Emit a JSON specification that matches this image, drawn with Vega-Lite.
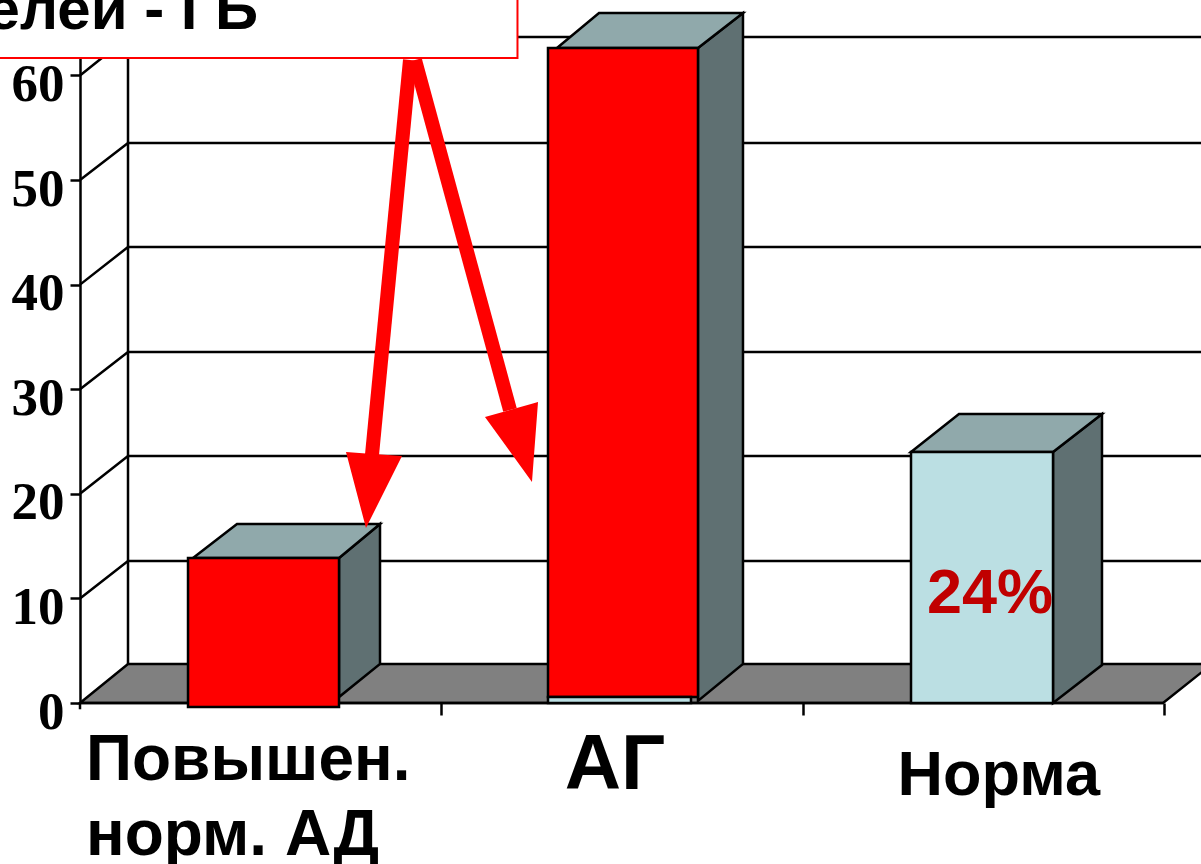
{
  "$schema": "https://vega.github.io/schema/vega-lite/v6.json",
  "width": 1121,
  "height": 703,
  "autosize": {"type": "none"},
  "padding": {"left": 80, "top": 0, "right": 0, "bottom": 161},
  "background": "white",
  "config": {"view": {"stroke": null}},
  "resolve": {"scale": {"fill": "independent"}},
  "datasets": {
    "floor": [
      {"x": 0, "y": 0, "y2": 0},
      {"x": 0.1328, "y": 3.73, "y2": 0},
      {"x": 2.9959, "y": 3.73, "y2": 0},
      {"x": 3.1314, "y": 3.73, "y2": 3.73}
    ],
    "wall": [
      {"g": "base", "x": 0, "y": 0},
      {"g": "base", "x": 2.9959, "y": 0},
      {"g": "stub", "x": 0, "y": 0},
      {"g": "stub", "x": 0, "y": -0.6},
      {"g": "back", "x": 0.1328, "y": 3.73},
      {"g": "back", "x": 0.1328, "y": 67.2},
      {"g": "10", "x": 0, "y": 10},
      {"g": "10", "x": 0.1328, "y": 13.58},
      {"g": "10", "x": 3.2, "y": 13.58},
      {"g": "20", "x": 0, "y": 20},
      {"g": "20", "x": 0.1328, "y": 23.61},
      {"g": "20", "x": 3.2, "y": 23.61},
      {"g": "30", "x": 0, "y": 30},
      {"g": "30", "x": 0.1328, "y": 33.56},
      {"g": "30", "x": 3.2, "y": 33.56},
      {"g": "40", "x": 0, "y": 40},
      {"g": "40", "x": 0.1328, "y": 43.59},
      {"g": "40", "x": 3.2, "y": 43.59},
      {"g": "50", "x": 0, "y": 50},
      {"g": "50", "x": 0.1328, "y": 53.54},
      {"g": "50", "x": 3.2, "y": 53.54},
      {"g": "60", "x": 0, "y": 60},
      {"g": "60", "x": 0.1328, "y": 63.67},
      {"g": "60", "x": 3.2, "y": 63.67}
    ],
    "faces": [
      {"face": "pre-side", "shade": "side", "x": 0.7165, "y": 13.86, "y2": 0.57},
      {"face": "pre-side", "shade": "side", "x": 0.8299, "y": 17.11, "y2": 3.73},
      {"face": "pre-top", "shade": "top", "x": 0.3126, "y": 13.86, "y2": 13.86},
      {"face": "pre-top", "shade": "top", "x": 0.4343, "y": 17.11, "y2": 13.86},
      {"face": "pre-top", "shade": "top", "x": 0.7165, "y": 17.11, "y2": 13.86},
      {"face": "pre-top", "shade": "top", "x": 0.8299, "y": 17.11, "y2": 17.11},
      {"face": "ag-side", "shade": "side", "x": 1.7095, "y": 62.62, "y2": 0.2},
      {"face": "ag-side", "shade": "side", "x": 1.834, "y": 65.97, "y2": 3.73},
      {"face": "ag-top", "shade": "top", "x": 1.3195, "y": 62.62, "y2": 62.62},
      {"face": "ag-top", "shade": "top", "x": 1.4357, "y": 65.97, "y2": 62.62},
      {"face": "ag-top", "shade": "top", "x": 1.7095, "y": 65.97, "y2": 62.62},
      {"face": "ag-top", "shade": "top", "x": 1.834, "y": 65.97, "y2": 65.97},
      {"face": "norm-side", "shade": "side", "x": 2.6916, "y": 24, "y2": 0},
      {"face": "norm-side", "shade": "side", "x": 2.8271, "y": 27.63, "y2": 3.63},
      {"face": "norm-top", "shade": "top", "x": 2.2988, "y": 24, "y2": 24},
      {"face": "norm-top", "shade": "top", "x": 2.4315, "y": 27.63, "y2": 24},
      {"face": "norm-top", "shade": "top", "x": 2.6916, "y": 27.63, "y2": 24},
      {"face": "norm-top", "shade": "top", "x": 2.8271, "y": 27.63, "y2": 27.63}
    ],
    "fronts": [
      {"series": "ГБ", "x": 0.2988, "x2": 0.7165, "y": 13.86, "y2": -0.38},
      {"series": "ГБ", "x": 1.2946, "x2": 1.7095, "y": 62.62, "y2": 0.57},
      {"series": "Без ГБ", "x": 1.2946, "x2": 1.6902, "y": 0.57, "y2": 0},
      {"series": "Без ГБ", "x": 2.2988, "x2": 2.6916, "y": 24, "y2": 0}
    ],
    "shafts": [
      {"arrow": "left", "x": 0.9129, "y": 61.47},
      {"arrow": "left", "x": 0.8077, "y": 23.71},
      {"arrow": "right", "x": 0.9267, "y": 61.47},
      {"arrow": "right", "x": 1.1895, "y": 28.01}
    ],
    "heads": [
      {"arrow": "left", "x": 0.7358, "y": 24, "y2": 24},
      {"arrow": "left", "x": 0.7911, "y": 23.86, "y2": 16.73},
      {"arrow": "left", "x": 0.8907, "y": 23.61, "y2": 23.61},
      {"arrow": "right", "x": 1.1203, "y": 27.34, "y2": 27.34},
      {"arrow": "right", "x": 1.2503, "y": 28.61, "y2": 21.13},
      {"arrow": "right", "x": 1.267, "y": 28.78, "y2": 28.78}
    ]
  },
  "encoding": {
    "x": {
      "field": "x",
      "type": "quantitative",
      "scale": {"domain": [0, 3.101], "nice": false, "zero": false},
      "axis": {
        "title": null,
        "grid": false,
        "domain": false,
        "labels": false,
        "values": [1, 2, 3],
        "tickColor": "black",
        "tickWidth": 2.5,
        "tickSize": 12
      }
    },
    "y": {
      "field": "y",
      "type": "quantitative",
      "scale": {"domain": [0, 67.21], "nice": false, "zero": false},
      "axis": {
        "title": null,
        "grid": false,
        "values": [0, 10, 20, 30, 40, 50, 60],
        "domainColor": "black",
        "domainWidth": 2.5,
        "tickColor": "black",
        "tickWidth": 2.5,
        "tickSize": 10,
        "labelFont": "Liberation Serif",
        "labelFontWeight": "bold",
        "labelFontSize": 53,
        "labelColor": "black",
        "labelPadding": 6,
        "labelOffset": 9
      }
    }
  },
  "layer": [
    {
      "data": {"name": "floor"},
      "mark": {"type": "area", "color": "#808080", "stroke": "black", "strokeWidth": 2.5},
      "encoding": {"y2": {"field": "y2"}}
    },
    {
      "data": {"name": "wall"},
      "mark": {"type": "line", "color": "black", "strokeWidth": 2.5},
      "encoding": {"detail": {"field": "g"}, "order": {"value": 0}}
    },
    {
      "data": {"name": "faces"},
      "mark": {"type": "area", "stroke": "black", "strokeWidth": 2.5},
      "encoding": {
        "y2": {"field": "y2"},
        "detail": {"field": "face"},
        "fill": {
          "field": "shade",
          "type": "nominal",
          "legend": null,
          "scale": {"domain": ["top", "side"], "range": ["#90A9AB", "#5F7072"]}
        }
      }
    },
    {
      "data": {"name": "fronts"},
      "mark": {"type": "rect", "stroke": "black", "strokeWidth": 2.5},
      "encoding": {
        "x2": {"field": "x2"},
        "y2": {"field": "y2"},
        "fill": {
          "field": "series",
          "type": "nominal",
          "legend": null,
          "scale": {"domain": ["ГБ", "Без ГБ"], "range": ["#FF0000", "#BBDFE3"]}
        }
      }
    },
    {
      "data": {"name": "shafts"},
      "mark": {"type": "line", "color": "#FF0000", "strokeWidth": 14},
      "encoding": {"detail": {"field": "arrow"}, "order": {"value": 0}}
    },
    {
      "data": {"name": "heads"},
      "mark": {"type": "area", "color": "#FF0000"},
      "encoding": {"y2": {"field": "y2"}, "detail": {"field": "arrow"}}
    },
    {
      "data": {"values": [{"x": -1, "x2": 1.2102, "y": 61.66, "y2": 72}]},
      "mark": {"type": "rect", "fill": "white", "stroke": "#FF0000", "strokeWidth": 2},
      "encoding": {"x2": {"field": "x2"}, "y2": {"field": "y2"}}
    },
    {
      "data": {"values": [{"label": "елей - ГБ", "x": 0.4924, "y": 64.44}]},
      "mark": {"type": "text", "font": "Liberation Sans", "fontWeight": "bold", "fontSize": 60, "align": "right", "baseline": "alphabetic", "color": "black"},
      "encoding": {"text": {"field": "label"}}
    },
    {
      "data": {"values": [
        {"label": "Повышен.", "x": 0.0166, "y": -7.36},
        {"label": "норм. АД", "x": 0.0166, "y": -14.5}
      ]},
      "mark": {"type": "text", "font": "Liberation Sans", "fontWeight": "bold", "fontSize": 64, "align": "left", "baseline": "alphabetic", "color": "black"},
      "encoding": {"text": {"field": "label"}}
    },
    {
      "data": {"values": [{"label": "АГ", "x": 1.48, "y": -8.2}]},
      "mark": {"type": "text", "font": "Liberation Sans", "fontWeight": "bold", "fontSize": 78, "align": "center", "baseline": "alphabetic", "color": "black"},
      "encoding": {"text": {"field": "label"}}
    },
    {
      "data": {"values": [{"label": "Норма", "x": 2.5415, "y": -8.8}]},
      "mark": {"type": "text", "font": "Liberation Sans", "fontWeight": "bold", "fontSize": 63, "align": "center", "baseline": "alphabetic", "color": "black"},
      "encoding": {"text": {"field": "label"}}
    },
    {
      "data": {"values": [{"label": "24%", "x": 2.5173, "y": 8.6}]},
      "mark": {"type": "text", "font": "Liberation Sans", "fontWeight": "bold", "fontSize": 63, "align": "center", "baseline": "alphabetic", "color": "#C00000"},
      "encoding": {"text": {"field": "label"}}
    }
  ]
}
